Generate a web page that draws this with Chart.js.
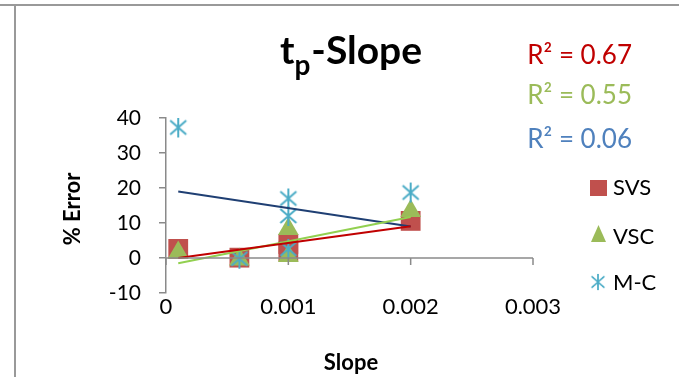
<!DOCTYPE html>
<html>
<head>
<meta charset="utf-8">
<script src="https://cdn.jsdelivr.net/npm/chart.js@4"></script>
<style>
  html, body { margin: 0; padding: 0; background: #fff; }
</style>
</head>
<body>
<canvas id="slopeChart" width="679" height="377"></canvas>
<script>
// slope values and % error per method
const svsX = [0.0001, 0.0006, 0.001, 0.001, 0.002];
const svsY = [2.6, 0.1, 4.0, 1.9, 10.6];
const vscX = [0.0001, 0.0006, 0.001, 0.001, 0.002];
const vscY = [1.6, -0.4, 8.3, 0.6, 13.4];
const mcX = [0.0001, 0.0006, 0.001, 0.001, 0.001, 0.002];
const mcY = [37.3, -0.2, 17.0, 12.0, 2.6, 18.7];

// linear trend lines, start and end
const trendX = [0.0001, 0.002];
const svsTrend = [0.0, 9.1];
const vscTrend = [-1.5, 11.7];
const mcTrend = [19.0, 9.0];

const seriesNames = ['SVS', 'VSC', 'M-C'];
const r2Labels = ['R² = 0.67', 'R² = 0.55', 'R² = 0.06'];
const xTickLabels = ['0', '0.001', '0.002', '0.003'];
const yTickLabels = ['-10', '0', '10', '20', '30', '40'];

const FONT = 'Lato, "Open Sans", sans-serif';
const AXIS_GREY = '#8a8a8a';

function pts(xs, ys) {
    return xs.map((x, i) => ({ x: x, y: ys[i] }));
}

// asterisk marker (x with a vertical bar)
function makeStar(color) {
    const c = document.createElement('canvas');
    c.width = 20; c.height = 22;
    const g = c.getContext('2d');
    g.strokeStyle = color;
    g.lineWidth = 2;
    g.beginPath();
    g.moveTo(10, 1); g.lineTo(10, 21);
    g.moveTo(2, 4); g.lineTo(18, 18);
    g.moveTo(18, 4); g.lineTo(2, 18);
    g.stroke();
    return c;
}
const starImg = makeStar('#4BACC6');

// frame, zero line, title, labels and legend
const decorations = {
    id: 'decorations',
    beforeDraw(chart) {
        const ctx = chart.ctx;
        ctx.save();
        ctx.strokeStyle = '#999';
        ctx.lineWidth = 2;
        ctx.beginPath();
        ctx.moveTo(0, 5); ctx.lineTo(679, 5);
        ctx.moveTo(15, 5); ctx.lineTo(15, 377);
        ctx.stroke();
        ctx.restore();
    },
    afterDatasetsDraw(chart) {
        const ctx = chart.ctx;
        const xs = chart.scales.x, ys = chart.scales.y;
        const y0 = ys.getPixelForValue(0);
        ctx.save();
        ctx.strokeStyle = AXIS_GREY;
        ctx.lineWidth = 1.5;
        ctx.beginPath();
        ctx.moveTo(xs.getPixelForValue(0), y0);
        ctx.lineTo(xs.getPixelForValue(0.003), y0);
        [0, 0.001, 0.002, 0.003].forEach(v => {
            const px = xs.getPixelForValue(v);
            ctx.moveTo(px, y0);
            ctx.lineTo(px, y0 + 7);
        });
        ctx.stroke();
        ctx.restore();
    },
    afterDraw(chart) {
        const ctx = chart.ctx;
        ctx.save();
        ctx.fillStyle = '#000';

        // title with subscript p
        const big = 'bold 39px ' + FONT, small = 'bold 28px ' + FONT;
        ctx.font = big;
        const wT = ctx.measureText('t').width;
        const wRest = ctx.measureText('-Slope').width;
        ctx.font = small;
        const wP = ctx.measureText('p').width + 1;
        let tx = 351 - (wT + wP + wRest) / 2;
        const base = 64;
        ctx.textBaseline = 'alphabetic';
        ctx.textAlign = 'left';
        ctx.font = big;
        ctx.fillText('t', tx, base);
        tx += wT;
        ctx.font = small;
        ctx.fillText('p', tx, base + 11);
        tx += wP;
        ctx.font = big;
        ctx.fillText('-Slope', tx, base);

        // axis titles
        ctx.font = 'bold 22px ' + FONT;
        ctx.textAlign = 'center';
        ctx.textBaseline = 'middle';
        ctx.fillText('Slope', 351, 363);
        ctx.save();
        ctx.translate(73, 209);
        ctx.rotate(-Math.PI / 2);
        ctx.fillText('% Error', 0, 0);
        ctx.restore();

        // R squared values
        const r2Colors = ['#C00000', '#9BBB59', '#4F81BD'];
        const r2Y = [56, 96, 140];
        ctx.font = '26px ' + FONT;
        ctx.textAlign = 'right';
        r2Labels.forEach((t, i) => {
            ctx.fillStyle = r2Colors[i];
            ctx.fillText(t, 632, r2Y[i]);
        });

        // legend
        const legY = [188, 237, 283];
        ctx.font = '22px ' + FONT;
        ctx.textAlign = 'left';
        ctx.fillStyle = '#000';
        seriesNames.forEach((n, i) => ctx.fillText(n, 613, legY[i]));
        ctx.fillStyle = '#C0504D';
        ctx.fillRect(590, 180, 17, 16);
        ctx.fillStyle = '#9BBB59';
        ctx.beginPath();
        ctx.moveTo(598.5, 225); ctx.lineTo(606, 242); ctx.lineTo(591, 242);
        ctx.closePath();
        ctx.fill();
        ctx.drawImage(starImg, 590, 273, 16, 18);
        ctx.restore();
    }
};

new Chart(document.getElementById('slopeChart'), {
    type: 'scatter',
    data: {
        datasets: [
            {
                type: 'line', label: 'SVS trend', data: pts(trendX, svsTrend),
                borderColor: '#C00000', borderWidth: 2, pointRadius: 0, fill: false, order: 0
            },
            {
                type: 'line', label: 'VSC trend', data: pts(trendX, vscTrend),
                borderColor: '#92D050', borderWidth: 2, pointRadius: 0, fill: false, order: 0
            },
            {
                type: 'line', label: 'M-C trend', data: pts(trendX, mcTrend),
                borderColor: '#1F3F73', borderWidth: 2, pointRadius: 0, fill: false, order: 0
            },
            {
                label: seriesNames[2], data: pts(mcX, mcY),
                pointStyle: starImg, pointRadius: 10, order: 1
            },
            {
                label: seriesNames[1], data: pts(vscX, vscY),
                pointStyle: 'triangle', pointRadius: 12,
                backgroundColor: '#9BBB59', borderColor: '#9BBB59', borderWidth: 0, order: 2
            },
            {
                label: seriesNames[0], data: pts(svsX, svsY),
                pointStyle: 'rect', pointRadius: 14,
                backgroundColor: '#C0504D', borderColor: '#C0504D', borderWidth: 0, order: 3
            }
        ]
    },
    options: {
        responsive: false,
        animation: false,
        devicePixelRatio: 1,
        layout: { padding: { left: 0, top: 118, right: 146, bottom: 0 } },
        plugins: {
            legend: { display: false },
            title: { display: false },
            tooltip: { enabled: false }
        },
        scales: {
            x: {
                type: 'linear',
                min: 0, max: 0.003,
                afterFit: s => { s.height = 84; },
                afterBuildTicks: s => {
                    s.ticks = xTickLabels.map(t => ({ value: parseFloat(t) }));
                },
                grid: { display: false, drawTicks: false },
                border: { display: false },
                ticks: {
                    padding: 1,
                    color: '#000',
                    font: { family: FONT, size: 22 },
                    callback: (v, i) => xTickLabels[i]
                }
            },
            y: {
                min: -10, max: 40,
                afterFit: s => { s.width = 166; },
                afterBuildTicks: s => {
                    s.ticks = yTickLabels.map(t => ({ value: parseFloat(t) }));
                },
                grid: {
                    drawOnChartArea: false, drawTicks: true,
                    tickLength: 7, color: AXIS_GREY, lineWidth: 1.5
                },
                border: { display: true, color: AXIS_GREY, width: 1.5 },
                ticks: {
                    padding: 18,
                    color: '#000',
                    font: { family: FONT, size: 21 },
                    callback: (v, i) => yTickLabels[i]
                }
            }
        }
    },
    plugins: [decorations]
});
</script>
</body>
</html>
